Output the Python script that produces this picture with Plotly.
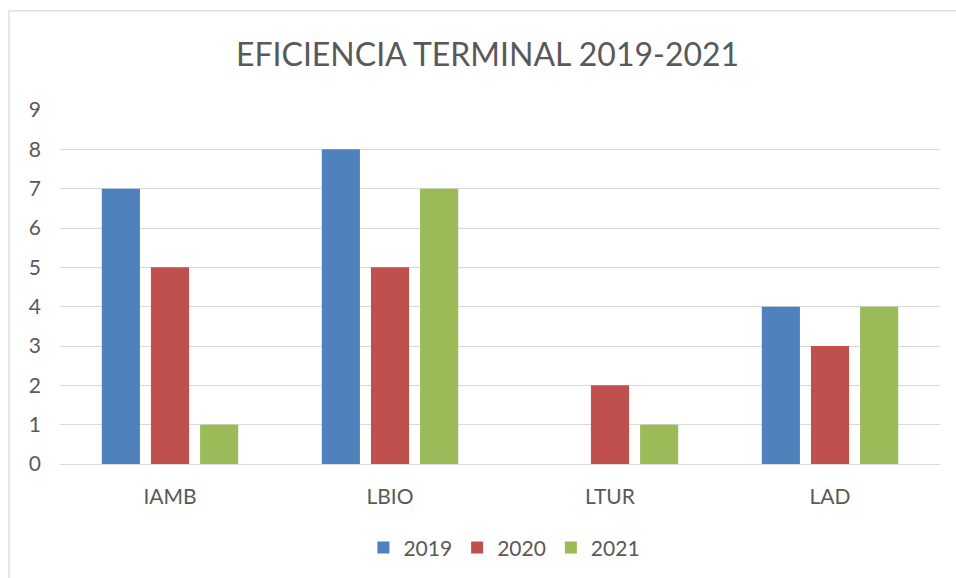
import plotly.graph_objects as go

categories = ["IAMB", "LBIO", "LTUR", "LAD"]
years = ["2019", "2020", "2021"]
v2019 = [7, 8, 0, 4]
v2020 = [5, 5, 2, 3]
v2021 = [1, 7, 1, 4]
colors = ["#4F81BD", "#C0504D", "#9BBB59"]
tick_vals = list(range(0, 10))

fig = go.Figure()
for name, vals, c in zip(years, [v2019, v2020, v2021], colors):
    fig.add_trace(go.Bar(x=categories, y=vals, name=name, marker_color=c,
                         marker_line_width=0))

font_family = "Lato, 'Open Sans', sans-serif"
fig.update_layout(
    width=956, height=578,
    paper_bgcolor="white", plot_bgcolor="white",
    margin=dict(l=60, r=16, t=110, b=114, autoexpand=False),
    title=dict(text="EFICIENCIA TERMINAL 2019-2021", x=0.51, xanchor="center",
               y=0.905, yanchor="middle",
               font=dict(family=font_family, size=32, color="#595959")),
    barmode="group", bargap=0.33, bargroupgap=0.224,
    showlegend=True,
    legend=dict(orientation="h", x=0.505, xanchor="center", y=-0.237, yanchor="middle",
                font=dict(family=font_family, size=21, color="#595959"),
                itemwidth=30, traceorder="normal"),
    xaxis=dict(showgrid=False, showline=False, ticks="", ticklabelstandoff=18,
               automargin=False,
               tickfont=dict(family=font_family, size=21, color="#595959")),
    yaxis=dict(range=[0, 9], tickvals=tick_vals, showgrid=True, gridcolor="#D9D9D9",
               gridwidth=1.3, zeroline=True, zerolinecolor="#D9D9D9", zerolinewidth=1.3,
               ticks="", ticklabelstandoff=18, automargin=False,
               tickfont=dict(family=font_family, size=21, color="#595959")),
    shapes=[dict(type="rect", xref="paper", yref="paper", x0=-0.058, x1=1.2, y0=-0.48, y1=1.28,
                 line=dict(color="#D9D9D9", width=1.3), fillcolor="rgba(0,0,0,0)", layer="below")],
)

fig.write_html("out.html", config={"displayModeBar": False},
               post_script="document.body.style.margin='0';")
